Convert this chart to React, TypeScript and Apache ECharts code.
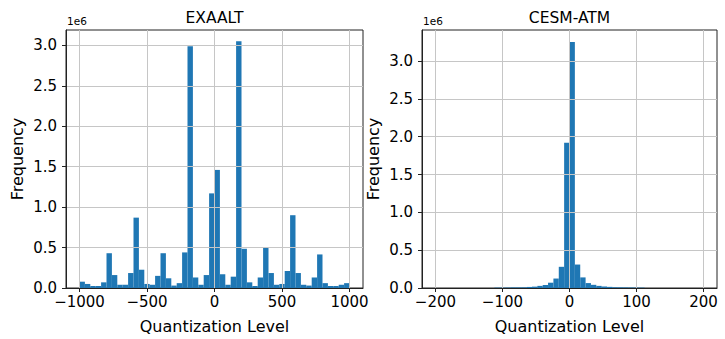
import React, { useEffect, useRef } from "react";
import * as echarts from "echarts";

// EXAALT histogram: 50 bins from -1000 to 1000 (width 40)
const exaaltBinStart = -1000;
const exaaltBinWidth = 40;
const exaaltCounts = [
  0.078, 0.05, 0.025, 0.025, 0.07, 0.43, 0.16, 0.04, 0.04, 0.185,
  0.87, 0.226, 0.05, 0.04, 0.15, 0.43, 0.12, 0.03, 0.06, 0.44,
  2.99, 0.13, 0.04, 0.16, 1.17, 1.46, 0.17, 0.04, 0.14, 3.05,
  0.485, 0.07, 0.025, 0.13, 0.5, 0.185, 0.04, 0.05, 0.21, 0.9,
  0.185, 0.04, 0.03, 0.13, 0.415, 0.06, 0.025, 0.025, 0.04, 0.06,
].map((v) => v * 1e6);

// CESM-ATM histogram: 50 bins from -200 to 200 (width 8)
const cesmBinStart = -200;
const cesmBinWidth = 8;
const cesmCounts = [
  0, 0, 0, 0, 0, 0, 0, 0, 0, 0,
  0, 0.005, 0.005, 0.006, 0.008, 0.008, 0.009, 0.014, 0.018, 0.028,
  0.04, 0.07, 0.125, 0.28, 1.92, 3.25, 0.31, 0.14, 0.065, 0.042,
  0.028, 0.02, 0.015, 0.01, 0.009, 0.008, 0.007, 0.006, 0.005, 0,
  0, 0, 0, 0, 0, 0, 0, 0, 0, 0,
].map((v) => v * 1e6);

const exaaltXTicks = [-1000, -500, 0, 500, 1000];
const cesmXTicks = [-200, -100, 0, 100, 200];
const exaaltYTicks = [0, 0.5e6, 1e6, 1.5e6, 2e6, 2.5e6, 3e6];
const cesmYTicks = [0, 0.5e6, 1e6, 1.5e6, 2e6, 2.5e6, 3e6];

const FONT = "DejaVu Sans";
const BLUE = "#1f77b4";
const GRID = "#c6c6c6";
const SPINE = "#222";

function toBins(start: number, width: number, counts: number[]) {
  return counts.map((c, i) => [start + i * width, start + (i + 1) * width, c]);
}

const renderBar = (params: any, api: any) => {
  const lo = api.value(0);
  const hi = api.value(1);
  const v = api.value(2);
  const p0 = api.coord([lo, v]);
  const p1 = api.coord([hi, 0]);
  return {
    type: "rect",
    shape: { x: p0[0], y: p0[1], width: p1[0] - p0[0], height: p1[1] - p0[1] },
    style: { fill: BLUE },
  };
};

const fmtX = (v: number) => String(v).replace("-", "\u2212");
const fmtY = (v: number) => (v / 1e6).toFixed(1);

const tickText = { fontFamily: FONT, fontSize: 15, color: "#000" };

function xAxisCfg(gridIndex: number, min: number, max: number, ticks: number[]) {
  return {
    type: "value",
    gridIndex,
    min,
    max,
    z: 5,
    name: "Quantization Level",
    nameLocation: "middle",
    nameGap: 30,
    nameTextStyle: { fontFamily: FONT, fontSize: 16, color: "#000" },
    axisLine: { show: true, onZero: false, lineStyle: { color: SPINE, width: 1 } },
    axisTick: { show: true, length: 4, customValues: ticks, lineStyle: { color: SPINE, width: 1 } },
    axisLabel: {
      show: true,
      customValues: ticks,
      formatter: fmtX,
      margin: 6,
      ...tickText,
      textStyle: tickText,
    },
    splitLine: { show: true, lineStyle: { color: GRID, width: 1 } },
  };
}

function yAxisCfg(gridIndex: number, max: number, ticks: number[]) {
  return {
    type: "value",
    gridIndex,
    min: 0,
    max,
    z: 5,
    name: "Frequency",
    nameLocation: "middle",
    nameGap: 41,
    nameTextStyle: { fontFamily: FONT, fontSize: 16, color: "#000" },
    axisLine: { show: true, onZero: false, lineStyle: { color: SPINE, width: 1 } },
    axisTick: { show: true, length: 4, customValues: ticks, lineStyle: { color: SPINE, width: 1 } },
    axisLabel: {
      show: true,
      customValues: ticks,
      formatter: fmtY,
      margin: 9,
      ...tickText,
      textStyle: tickText,
    },
    splitLine: { show: true, lineStyle: { color: GRID, width: 1 } },
  };
}

export default function App() {
  const ref = useRef<HTMLDivElement>(null);
  useEffect(() => {
    if (!ref.current) return;
    const chart = echarts.init(ref.current, null, { renderer: "svg" });
    chart.setOption({
      animation: false,
      backgroundColor: "#fff",
      grid: [
        { left: 66, top: 30, width: 297, height: 259, show: true, borderColor: SPINE, borderWidth: 1, backgroundColor: "transparent" },
        { left: 422, top: 30, width: 295, height: 259, show: true, borderColor: SPINE, borderWidth: 1, backgroundColor: "transparent" },
      ],
      xAxis: [
        xAxisCfg(0, -1100, 1100, exaaltXTicks),
        xAxisCfg(1, -220, 220, cesmXTicks),
      ],
      yAxis: [
        yAxisCfg(0, 3.19e6, exaaltYTicks),
        yAxisCfg(1, 3.41e6, cesmYTicks),
      ],
      series: [
        {
          type: "custom",
          xAxisIndex: 0,
          yAxisIndex: 0,
          renderItem: renderBar,
          encode: { x: [0, 1], y: 2 },
          data: toBins(exaaltBinStart, exaaltBinWidth, exaaltCounts),
        },
        {
          type: "custom",
          xAxisIndex: 1,
          yAxisIndex: 1,
          renderItem: renderBar,
          encode: { x: [0, 1], y: 2 },
          data: toBins(cesmBinStart, cesmBinWidth, cesmCounts),
        },
      ],
      graphic: [
        { type: "text", x: 214.5, y: 17.5, style: { text: "EXAALT", font: `15.5px '${FONT}'`, fill: "#000", textAlign: "center", textVerticalAlign: "middle" } },
        { type: "text", x: 569.5, y: 17.5, style: { text: "CESM-ATM", font: `15.5px '${FONT}'`, fill: "#000", textAlign: "center", textVerticalAlign: "middle" } },
        { type: "text", x: 67, y: 26, style: { text: "1e6", font: `10.5px '${FONT}'`, fill: "#000", textAlign: "left", textVerticalAlign: "bottom" } },
        { type: "text", x: 423, y: 26, style: { text: "1e6", font: `10.5px '${FONT}'`, fill: "#000", textAlign: "left", textVerticalAlign: "bottom" } },
      ],
    });
    return () => chart.dispose();
  }, []);
  return <div ref={ref} style={{ width: 725, height: 339, position: "absolute", left: 0, top: 0 }} />;
}
